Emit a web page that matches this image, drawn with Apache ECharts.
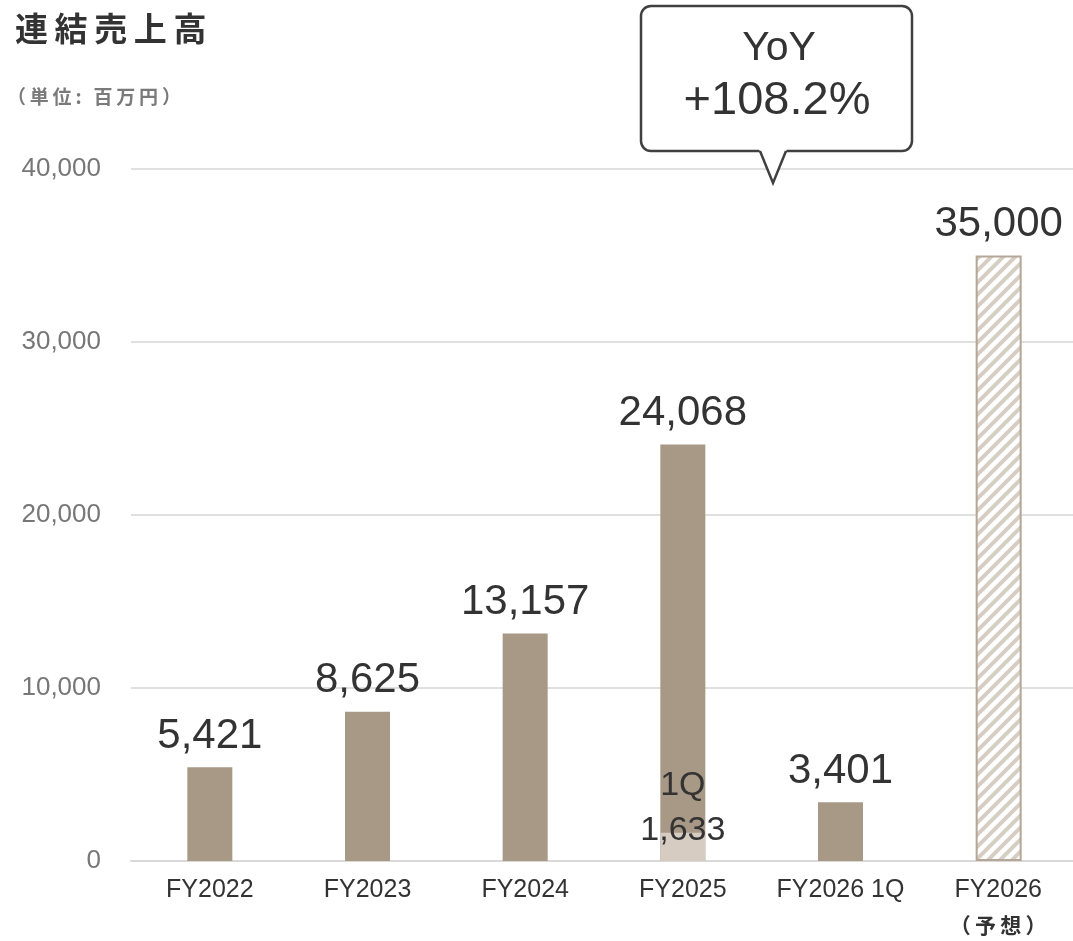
<!DOCTYPE html>
<html><head><meta charset="utf-8">
<script src="https://cdn.jsdelivr.net/npm/echarts@6/dist/echarts.min.js"></script>
<style>html,body{margin:0;padding:0;background:#fff}#c{width:1073px;height:941px}</style>
</head><body><div id="c"></div>
<script>
const categories = ['FY2022','FY2023','FY2024','FY2025','FY2026 1Q','FY2026\n（予想）'];
const actualSales = [5421, 8625, 13157, 24068, 3401, null];
const forecastSales = [null, null, null, null, null, 35000];
const q1Sales = [null, null, null, 1633, null, null];
const yTicks = [0, 10000, 20000, 30000, 40000];
const yoyText = ['YoY', '+108.2%'];

const FONT = '"Noto Sans CJK JP", "Liberation Sans", Arial, sans-serif';
const LAT = '"Liberation Sans", Arial, sans-serif';
const sp = s => s.split('').join('\u2009');

// hatch pattern
const pc = document.createElement('canvas');
pc.width = 12; pc.height = 12;
const px = pc.getContext('2d');
px.fillStyle = '#ffffff'; px.fillRect(0,0,12,12);
px.strokeStyle = '#d6cdc3'; px.lineWidth = 4;
px.beginPath();
for (let k=-2;k<=2;k++){ px.moveTo(k*12-2, 14); px.lineTo(k*12+14, -2); }
px.stroke();

const chart = echarts.init(document.getElementById('c'));
const fmt = v => v.toLocaleString('en-US');
chart.setOption({
  animation:false,
  grid:{left:131, width:946, top:169, bottom:80, outerBoundsMode:'none', containLabel:false},
  title:[
    {text:sp('連結売上高'), left:10, top:7, textStyle:{fontFamily:FONT, fontSize:33, fontWeight:'bold', color:'#333'}},
    {text:sp('（単位: 百万円）'), left:2, top:82, textStyle:{fontFamily:FONT, fontSize:19, fontWeight:'bold', color:'#7a7a7a'}}
  ],
  xAxis:{type:'category', data:categories,
    axisLine:{show:true, lineStyle:{color:'#d9d9d9', width:2}}, axisTick:{show:false},
    axisLabel:{interval:0, color:'#333', fontSize:25, fontFamily:LAT, margin:12, lineHeight:35,
      formatter: v => v.replace('（予想）', '{b|' + sp('（予想）') + '}'),
      rich:{b:{fontFamily:FONT, fontSize:21, fontWeight:'bold', color:'#333', lineHeight:35}}}},
  yAxis:{type:'value', min:0, max:40000, interval:10000,
    axisLine:{show:false}, axisTick:{show:false},
    splitLine:{lineStyle:{color:'#e0e0e0', width:2}},
    axisLabel:{color:'#777', fontSize:26, fontFamily:LAT, margin:30, formatter: v => yTicks.includes(v) ? fmt(v) : ''}},
  series:[
    {type:'bar', data:actualSales, barWidth:45, barGap:'-100%',
      itemStyle:{color:'#a89886'},
      label:{show:true, position:'top', distance:10, fontSize:42, fontFamily:LAT, color:'#333', formatter:p=>fmt(p.value)}},
    {type:'bar', data:forecastSales, barWidth:46, barGap:'-100%',
      itemStyle:{color:{image:pc, repeat:'repeat'}, borderColor:'#b5a797', borderWidth:2},
      label:{show:true, position:'top', distance:10, fontSize:42, fontFamily:LAT, color:'#333', formatter:p=>fmt(p.value)}},
    {type:'bar', data:q1Sales, barWidth:45, barGap:'-100%',
      itemStyle:{color:'#d6ccc1'},
      label:{show:true, position:'top', distance:-20, fontSize:34, fontFamily:LAT, color:'#333', lineHeight:45,
        formatter:p=>'1Q\n'+fmt(p.value)}}
  ],
  graphic:[
    {type:'rect', shape:{x:641, y:6, width:271, height:145, r:10},
      style:{fill:'#fff', stroke:'#404040', lineWidth:2.5}, z:100},
    {type:'polygon', shape:{points:[[759,149],[787,149],[773,181]]},
      style:{fill:'#fff'}, z:101},
    {type:'polyline', shape:{points:[[760,151],[773,183],[786,151]]},
      style:{fill:null, stroke:'#404040', lineWidth:2.5}, z:102},
    {type:'text', x:779, y:49, z:103, style:{text:yoyText[0], fontSize:41, fontFamily:LAT, fill:'#333', align:'center', verticalAlign:'middle'}},
    {type:'text', x:777, y:101, z:103, style:{text:yoyText[1], fontSize:47, fontFamily:LAT, fill:'#333', align:'center', verticalAlign:'middle'}}
  ]
});
</script></body></html>
